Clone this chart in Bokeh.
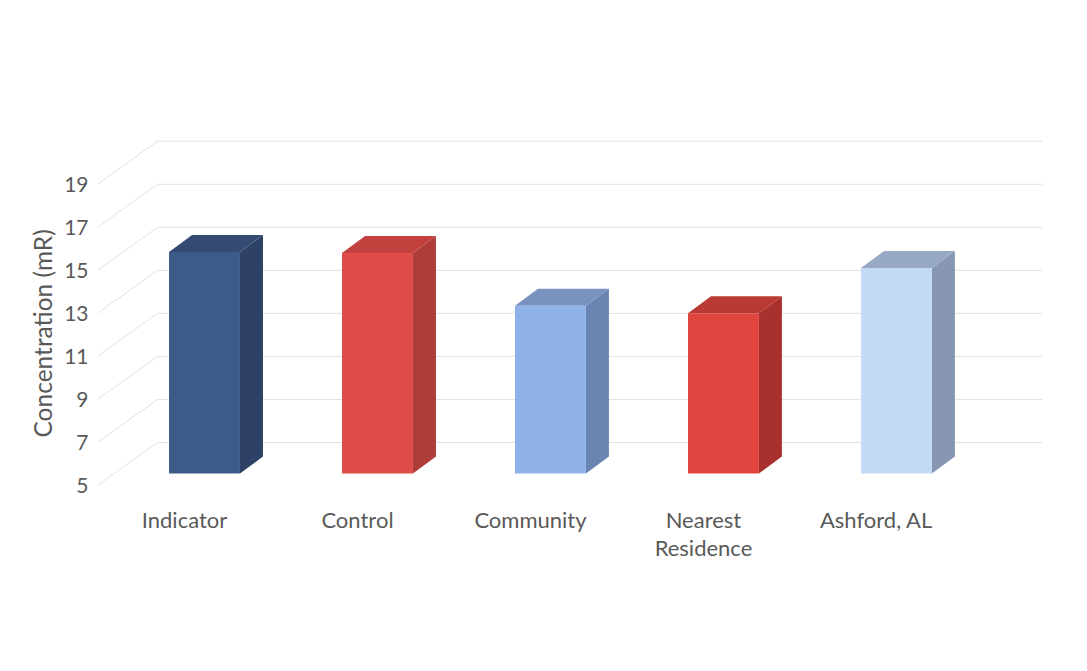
from bokeh.plotting import figure
from bokeh.models import FixedTicker, Range1d, Title
from bokeh.embed import file_html
from bokeh.resources import INLINE

# ---- data ----
categories = ["Indicator", "Control", "Community", "Nearest\nResidence", "Ashford, AL"]
values = [15.3, 15.25, 12.8, 12.45, 14.55]
front_colors = ["#3e5a89", "#e04c48", "#8fb3e8", "#e0463f", "#c3daf3"]
side_colors = ["#2e4267", "#b03c3a", "#6a85b1", "#a8312e", "#8797b1"]
top_colors = ["#344a72", "#c2413e", "#7893c0", "#b93a35", "#98a9c3"]
y_ticks = [5, 7, 9, 11, 13, 15, 17, 19]
y_title = "Concentration (mR)"

# ---- 3D geometry (data units) ----
BASE = 5.0
X0, X1 = -0.503, 4.960          # x range
DX, DY = 0.347, 2.0             # full floor depth offset
OX, OY = 0.1156, 0.558          # bar front-face offset from the front plane
HALF_W = 0.205                  # bar half width
BDX, BDY = 0.133, 0.79          # bar depth offset

p = figure(width=1087, height=671, output_backend="svg", toolbar_location=None,
           x_range=Range1d(X0, X1), y_range=Range1d(BASE, 21.5),
           min_border_left=97, min_border_right=45, min_border_top=130,
           min_border_bottom=186)
p.outline_line_color = None
p.xgrid.visible = False
p.ygrid.visible = False
p.background_fill_color = "white"
p.border_fill_color = "white"

grid_col = "#e2e2e2"
# back wall gridlines
p.segment(x0=[X0 + DX] * len(y_ticks), y0=[t + DY for t in y_ticks],
          x1=[X1] * len(y_ticks), y1=[t + DY for t in y_ticks],
          line_color=grid_col, line_width=1)
# side wall diagonals
p.segment(x0=[X0] * len(y_ticks), y0=y_ticks,
          x1=[X0 + DX] * len(y_ticks), y1=[t + DY for t in y_ticks],
          line_color=grid_col, line_width=1)

# bars
front_x, front_y, side_x, side_y, top_x, top_y = [], [], [], [], [], []
for i, v in enumerate(values):
    xl = i + OX - HALF_W
    xr = i + OX + HALF_W
    yb = BASE + OY
    yt = v + OY
    front_x.append([xl, xr, xr, xl])
    front_y.append([yb, yb, yt, yt])
    side_x.append([xr, xr + BDX, xr + BDX, xr])
    side_y.append([yb, yb + BDY, yt + BDY, yt])
    top_x.append([xl, xr, xr + BDX, xl + BDX])
    top_y.append([yt, yt, yt + BDY, yt + BDY])

p.patches(side_x, side_y, fill_color=side_colors, line_color=None)
p.patches(top_x, top_y, fill_color=top_colors, line_color=None)
p.patches(front_x, front_y, fill_color=front_colors, line_color=None)

font = "Lato"
txt_col = "#595959"

# y axis
p.yaxis.ticker = FixedTicker(ticks=y_ticks)
p.yaxis.axis_line_color = None
p.yaxis.major_tick_line_color = None
p.yaxis.minor_tick_line_color = None
p.yaxis.major_tick_out = 0
p.yaxis.major_label_standoff = 9
p.yaxis.major_label_text_font = font
p.yaxis.major_label_text_font_size = "21px"
p.yaxis.major_label_text_color = txt_col

# y title, placed along the tick range rather than the whole frame
p.add_layout(Title(text=y_title, align="left", offset=48, text_font=font,
                   text_font_size="24.5px", text_font_style="normal",
                   text_color=txt_col), "left")

# x axis
p.xaxis.ticker = FixedTicker(ticks=list(range(len(categories))))
p.xaxis.major_label_overrides = {i: c for i, c in enumerate(categories)}
p.xaxis.axis_line_color = None
p.xaxis.major_tick_line_color = None
p.xaxis.minor_tick_line_color = None
p.xaxis.major_tick_out = 0
p.xaxis.major_label_standoff = 20
p.xaxis.major_label_text_font = font
p.xaxis.major_label_text_font_size = "22px"
p.xaxis.major_label_text_line_height = 1.05
p.xaxis.major_label_text_color = txt_col

open("out.html", "w").write(file_html(p, INLINE))
